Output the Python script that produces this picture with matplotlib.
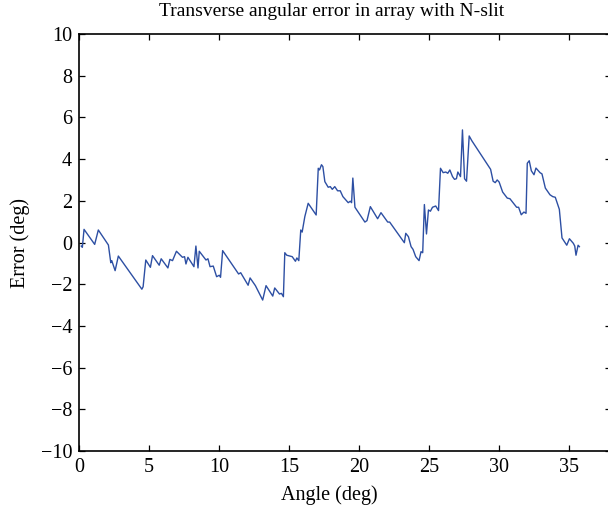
import matplotlib
matplotlib.use("Agg")
import matplotlib.pyplot as plt
import numpy as np

angle = [0.16, 0.24, 0.36, 1.12, 1.38, 2.10, 2.27, 2.34, 2.58, 2.81,
         4.49, 4.58, 4.77, 5.10, 5.25, 5.73, 5.87, 6.35, 6.49, 6.68,
         6.96, 7.39, 7.54, 7.64, 7.78, 8.21, 8.35, 8.50, 8.59, 9.07,
         9.21, 9.36, 9.59, 9.83, 10.02, 10.11, 10.26, 11.40, 11.55, 12.08,
         12.22, 12.60, 13.12, 13.36, 13.84, 13.98, 14.32, 14.46, 14.60, 14.70,
         14.84, 15.23, 15.46, 15.56, 15.70, 15.84, 15.94, 16.13, 16.37, 16.94,
         17.09, 17.18, 17.32, 17.42, 17.56, 17.80, 17.95, 18.09, 18.27, 18.47,
         18.66, 18.85, 19.23, 19.38, 19.47, 19.56, 19.71, 20.42, 20.57, 20.81,
         21.33, 21.57, 22.05, 22.19, 23.24, 23.34, 23.53, 23.72, 23.86, 24.05,
         24.29, 24.43, 24.55, 24.67, 24.82, 24.96, 25.10, 25.25, 25.48, 25.68,
         25.82, 26.01, 26.20, 26.34, 26.49, 26.68, 26.82, 26.96, 27.06, 27.25,
         27.39, 27.54, 27.68, 27.87, 28.06, 29.40, 29.58, 29.73, 29.87, 30.01,
         30.26, 30.59, 30.78, 31.26, 31.40, 31.59, 31.78, 31.93, 32.02, 32.16,
         32.31, 32.50, 32.64, 32.93, 33.07, 33.31, 33.64, 33.84, 34.02, 34.31,
         34.50, 34.84, 35.03, 35.31, 35.41, 35.50, 35.65, 35.74]
error = [-0.17, -0.23, 0.63, -0.09, 0.60, -0.12, -0.97, -0.87, -1.35, -0.65,
         -2.24, -2.12, -0.84, -1.19, -0.63, -1.09, -0.78, -1.22, -0.81, -0.87,
         -0.42, -0.71, -0.68, -1.03, -0.71, -1.16, -0.17, -1.22, -0.42, -0.84,
         -0.78, -1.16, -1.13, -1.64, -1.57, -1.67, -0.39, -1.51, -1.45, -2.05,
         -1.70, -2.07, -2.76, -2.07, -2.57, -2.18, -2.47, -2.44, -2.60, -0.49,
         -0.61, -0.68, -0.90, -0.74, -0.87, 0.60, 0.50, 1.24, 1.88, 1.32,
         3.56, 3.48, 3.73, 3.64, 2.92, 2.65, 2.68, 2.55, 2.68, 2.48,
         2.48, 2.20, 1.91, 1.98, 1.91, 3.09, 1.69, 0.98, 1.05, 1.72,
         1.14, 1.43, 0.98, 0.98, -0.01, 0.44, 0.28, -0.20, -0.33, -0.68,
         -0.87, -0.44, -0.49, 1.82, 0.41, 1.56, 1.50, 1.69, 1.75, 1.53,
         3.56, 3.35, 3.38, 3.32, 3.48, 3.16, 3.03, 3.06, 3.38, 3.16,
         5.40, 3.06, 2.94, 5.11, 4.88, 3.51, 2.94, 2.87, 3.00, 2.90,
         2.42, 2.13, 2.10, 1.69, 1.69, 1.33, 1.46, 1.40, 3.80, 3.92,
         3.44, 3.25, 3.57, 3.35, 3.29, 2.61, 2.29, 2.20, 2.17, 1.59,
         0.22, -0.13, 0.18, -0.04, -0.17, -0.61, -0.13, -0.20]

xticks = [0, 5, 10, 15, 20, 25, 30, 35]
yticks = [-10, -8, -6, -4, -2, 0, 2, 4, 6, 8, 10]

plt.rcParams['font.family'] = ['Liberation Serif', 'DejaVu Serif']
plt.rcParams['axes.unicode_minus'] = True

fig = plt.figure(figsize=(6.08, 5.11), dpi=100)
ax = fig.add_axes([79 / 608, 60 / 511, 532 / 608, 417 / 511])

ax.plot(angle, error, color="#2d4fa3", linewidth=1.0)

ax.set_xlim(0, 38)
ax.set_ylim(-10, 10)
ax.set_xticks(xticks)
ax.set_yticks(yticks)
ax.tick_params(direction="in", length=4.5, width=0.9, labelsize=14.5,
               top=True, right=True, pad=5)
for s in ax.spines.values():
    s.set_linewidth(1.2)

ax.set_xlabel("Angle (deg)", fontsize=14.5, va="top")
ax.xaxis.set_label_coords(0.47, -0.082)
ax.set_ylabel("Error (deg)", fontsize=14.5, va="center")
ax.yaxis.set_label_coords(-0.11, 0.5)
fig.text(332 / 608, 1 - 12 / 511, "Transverse angular error in array with N-slit",
         fontsize=14, ha="center", va="center")

fig.savefig("out.png", dpi=100)
